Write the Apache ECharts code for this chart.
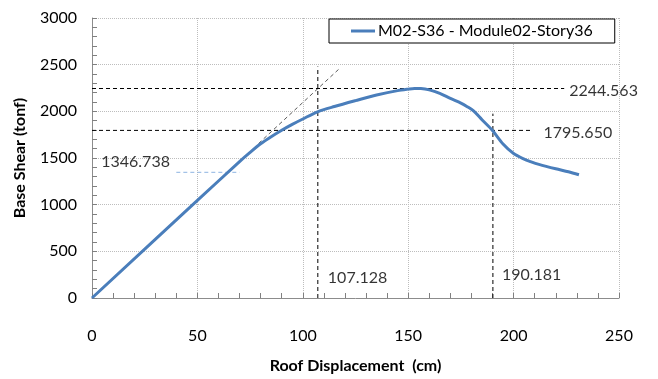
<!DOCTYPE html>
<html>
<head>
<meta charset="utf-8">
<script src="https://cdn.jsdelivr.net/npm/echarts@6/dist/echarts.min.js"></script>
<style>
  body { margin: 0; background: #fff; }
  #JS_PushoverChart { width: 658px; height: 379px; background: #fff; }
</style>
</head>
<body>
<div id="JS_PushoverChart"></div>
<script>
// pushover curve
const dispCm = [0, 50, 70, 75, 80, 85, 90, 95, 100, 107, 115, 125, 135, 145, 150, 153, 156, 160, 165, 170, 175, 178, 181, 185, 190, 195, 200, 205, 208, 212, 220, 226, 231];
const shearTonf = [0, 1045, 1462, 1560, 1652, 1728, 1797, 1860, 1918, 1995, 2052, 2115, 2175, 2222, 2238, 2245, 2244, 2230, 2192, 2138, 2088, 2050, 2005, 1910, 1795, 1650, 1548, 1488, 1462, 1432, 1384, 1352, 1320];

const seriesName = 'M02-S36 - Module02-Story36';

// reference lines (x, y)
const tangentLine = [[79, 1655], [117, 2450]];
const peakShear = 2244.563;
const peakLineEndX = 224;
const dropShear = 1795.650;
const dropLineEndX = 208;
const yieldDisp = 107.128;
const yieldLineTop = 2480;
const ultDisp = 190.181;
const ultLineTop = 1975;
const shear1Level = 1346.738;
const shear1Span = [40, 70];

const xTicks = { min: 0, max: 250, interval: 50 };
const yTicks = { min: 0, max: 3000, interval: 500 };

const font = 'Lato, "Open Sans", sans-serif';
const blue = '#4a7ebb';
const axisGray = '#8c8c8c';

const chart = echarts.init(document.getElementById('JS_PushoverChart'));

const dashed = (name, data, color, width) => ({
    name: name,
    type: 'line',
    data: data,
    symbol: 'none',
    silent: true,
    lineStyle: { color: color, width: width || 1, type: [4, 3] },
    z: 1
});

const textMark = (data, offset, pos) => ({
    type: 'scatter',
    data: [data.value],
    symbolSize: 0,
    silent: true,
    label: {
        show: true,
        position: pos || 'right',
        offset: offset,
        formatter: data.text,
        color: '#000',
        fontFamily: font,
        fontSize: 16
    }
});

const option = {
    animation: false,
    grid: { left: 92, right: 39, top: 18, bottom: 71 },
    legend: {
        data: [seriesName],
        left: 329,
        top: 19,
        itemWidth: 24,
        itemHeight: 3,
        itemGap: 0,
        padding: [4, 22, 4, 22],
        borderColor: '#000',
        borderWidth: 1,
        backgroundColor: '#fff',
        textStyle: { color: '#000', fontFamily: font, fontSize: 16, padding: [0, 0, 0, -2] },
        icon: 'rect'
    },
    xAxis: {
        type: 'value',
        min: xTicks.min,
        max: xTicks.max,
        interval: xTicks.interval,
        name: 'Roof Displacement  (cm)',
        nameLocation: 'middle',
        nameGap: 60,
        nameTextStyle: { color: '#000', fontFamily: font, fontSize: 16, fontWeight: 'bold' },
        axisLine: { show: true, lineStyle: { color: axisGray } },
        axisTick: { show: true, inside: true, length: 5, lineStyle: { color: '#808080', width: 1 } },
        minorTick: { show: true, length: 5, lineStyle: { color: '#808080', width: 1 } },
        axisLabel: { color: '#000', fontFamily: font, fontSize: 16, margin: 30 },
        splitLine: { show: true, lineStyle: { color: '#bdbdbd', type: [1, 1] } }
    },
    yAxis: {
        type: 'value',
        min: yTicks.min,
        max: yTicks.max,
        interval: yTicks.interval,
        name: 'Base Shear (tonf)',
        nameLocation: 'middle',
        nameGap: 64,
        nameTextStyle: { color: '#000', fontFamily: font, fontSize: 16, fontWeight: 'bold' },
        axisLine: { show: true, lineStyle: { color: axisGray } },
        axisTick: { show: true, inside: true, length: 5, lineStyle: { color: '#808080', width: 1 } },
        minorTick: { show: true, length: 5, lineStyle: { color: '#808080', width: 1 } },
        axisLabel: { color: '#000', fontFamily: font, fontSize: 16, margin: 15, formatter: v => String(v) },
        splitLine: { show: true, lineStyle: { color: '#bdbdbd', type: [1, 1] } }
    },
    series: [
        dashed('tangent', tangentLine, '#595959', 1),
        dashed('peak', [[0, peakShear], [peakLineEndX, peakShear]], '#000', 1),
        dashed('drop', [[0, dropShear], [dropLineEndX, dropShear]], '#000', 1),
        dashed('yield', [[yieldDisp, 0], [yieldDisp, yieldLineTop]], '#000', 1),
        dashed('ult', [[ultDisp, 0], [ultDisp, ultLineTop]], '#000', 1),
        dashed('shear1', [[shear1Span[0], shear1Level], [shear1Span[1], shear1Level]], '#8db3e2', 1),
        {
            name: seriesName,
            type: 'line',
            data: dispCm.map((x, i) => [x, shearTonf[i]]),
            symbol: 'none',
            smooth: 0.3,
            lineStyle: { color: blue, width: 3 },
            itemStyle: { color: blue },
            z: 3
        },
        textMark({ value: [peakLineEndX, peakShear], text: peakShear.toFixed(3) }, [0, 2]),
        textMark({ value: [dropLineEndX, dropShear], text: dropShear.toFixed(3) }, [8, 2]),
        textMark({ value: [2, shear1Level], text: shear1Level.toFixed(3) }, [0, -10]),
        textMark({ value: [yieldDisp, 0], text: yieldDisp.toFixed(3) }, [5, -20]),
        textMark({ value: [ultDisp, 0], text: ultDisp.toFixed(3) }, [4, -23])
    ]
};

chart.setOption(option);
</script>
</body>
</html>
